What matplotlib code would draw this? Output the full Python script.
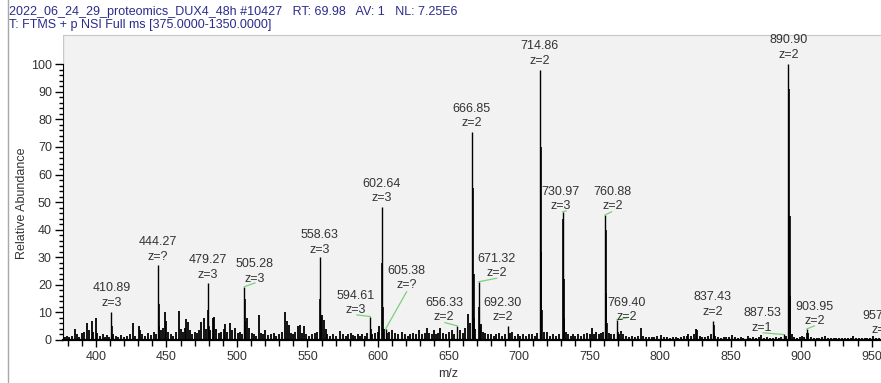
import matplotlib
matplotlib.use('Agg')
import matplotlib.pyplot as plt
from matplotlib.lines import Line2D
from matplotlib.ticker import MultipleLocator, FixedLocator

plt.rcParams['font.family'] = ['Liberation Sans', 'DejaVu Sans']

# Labelled peaks (m/z, relative abundance)
peak_mz = [410.89, 444.27, 479.27, 505.28, 558.63, 594.61, 602.64, 605.38,
           656.33, 666.85, 671.32, 692.30, 714.86, 730.97, 760.88, 769.40,
           837.43, 887.53, 890.90, 903.95]
peak_int = [10.3, 27.2, 20.8, 19.3, 30.2, 8.5, 48.1, 4.0,
            5.1, 75.6, 21.1, 5.1, 97.9, 46.5, 45.3, 7.3,
            7.0, 2.0, 100.0, 4.0]
peak_z = ['3', '?', '3', '3', '3', '3', '3', '?',
          '2', '2', '2', '2', '2', '3', '2', '2',
          '2', '1', '2', '2']

# Isotope peaks next to the labelled ones
iso_mz = [411.22, 444.60, 444.94, 479.60, 479.94, 505.61, 505.95,
          558.96, 559.30, 559.63, 594.94, 602.97, 603.31, 603.64,
          667.35, 667.85, 668.35, 671.82, 672.32, 715.36, 715.86, 716.36,
          731.30, 731.64, 731.97, 761.38, 761.88, 762.38, 769.90,
          837.93, 838.43, 891.40, 891.90, 892.40, 904.45]
iso_int = [5.0, 13.0, 5.0, 11.0, 5.0, 15.0, 7.0,
           15.0, 8.5, 4.0, 4.0, 28.0, 12.0, 4.0,
           55.0, 24.0, 8.0, 12.0, 5.0, 70.0, 32.0, 11.0,
           44.0, 22.0, 8.0, 40.0, 17.0, 6.0, 3.0,
           5.5, 2.5, 91.0, 45.0, 16.0, 2.5]

# Small background peaks
noise_mz = [378, 379.5, 381, 383, 385.2, 386.5, 388, 390, 391.5, 393.9, 395, 397, 398.3, 399.8,
            401, 403, 405, 406.5, 408, 409.5, 412.5, 414, 416, 418, 420, 422, 424,
            426.4, 428, 430.4, 431.5, 433, 435, 437, 439, 441, 442.5, 446, 447.5,
            448.7, 449.7, 451, 453, 455, 457, 458.9, 460, 461.5, 463, 464, 465.3,
            466.5, 468, 470, 471.5, 473, 474.6, 477, 478, 481, 482.9, 484, 485.5,
            487, 489, 490.5, 491.8, 493, 495.1, 496.5, 498.9, 500.5, 502, 503.5,
            507, 508.9, 510.5, 512, 513.5, 515.3, 517, 518.5, 520, 522, 524, 526,
            528, 530, 532, 534.2, 535.8, 537, 538.5, 540, 541.5, 543.4, 544.6, 546,
            547.7, 549, 551, 553, 555, 556.5, 560.3, 561.5, 562.8, 564, 566, 568,
            570, 573, 575, 577, 579, 580.6, 582, 584, 586, 587.5, 589, 591, 592.5,
            596, 598, 600, 601, 604, 606.5, 608, 610, 612, 614, 617, 619, 621, 623,
            625, 627, 628.8, 631, 633, 634.7, 636.5, 638, 639.4, 641, 642.5, 644.1,
            646, 648, 650, 652.4, 654, 658, 660, 661.5, 663.6, 665, 669, 673, 674.5,
            676, 678, 680, 682, 684, 686, 688, 690, 693.5, 695, 697, 699, 701, 703,
            705, 707, 709, 711, 712.5, 717.5, 720, 722, 724, 726, 728, 733, 734.7,
            736.5, 738, 740, 742, 744, 746, 748, 750, 751.9, 753, 754.7, 756.5, 758,
            759.5, 763.5, 765, 767, 771, 772, 774, 776, 778, 780, 782, 784, 786.5,
            788, 790, 792, 794, 796, 798, 800.8, 803, 805, 807, 809, 811, 813, 815,
            817, 819, 820, 822, 824, 825.8, 826.5, 828, 830, 832, 834, 836, 838.9,
            841, 843, 845, 847, 849, 851.3, 853, 855, 857, 859, 862, 864, 866, 868,
            870, 871.8, 874, 876, 878, 880, 882, 884, 886, 889, 893.5, 895, 897, 899,
            900.4, 902, 905.2, 907, 909, 911, 913, 915, 917, 919, 921, 923, 925, 927,
            929, 931, 933, 935, 937, 939, 941, 943, 945, 947, 949, 951, 953, 955]
noise_int = [1.0, 1.5, 1.0, 1.5, 4.0, 2.0, 1.2, 2.5, 3.0, 6.1, 3.5, 6.9, 3.0, 7.8,
             2.5, 1.5, 2.0, 1.0, 1.8, 1.2, 2.0, 1.5, 1.0, 1.8, 1.2, 1.5, 2.2,
             6.0, 1.5, 5.2, 3.5, 2.0, 1.5, 2.5, 1.8, 3.0, 2.0, 3.5, 4.5,
             10.0, 7.0, 3.0, 2.0, 1.5, 2.8, 10.5, 4.0, 3.0, 4.5, 7.5, 6.5,
             3.5, 2.0, 3.0, 2.5, 3.5, 6.5, 8.0, 4.0, 3.5, 8.0, 8.5, 4.0,
             2.5, 3.0, 4.0, 5.8, 3.0, 6.0, 3.5, 4.2, 2.5, 3.0, 2.0,
             8.0, 4.2, 2.5, 2.0, 1.5, 9.2, 2.5, 2.0, 3.5, 1.8, 2.2, 2.5,
             1.5, 2.0, 3.0, 10.0, 6.8, 5.5, 2.5, 2.0, 3.0, 5.0, 5.5, 2.5,
             5.2, 2.0, 1.5, 2.0, 2.5, 3.0, 9.0, 7.3, 4.0, 2.0, 1.5, 2.0,
             1.5, 3.4, 2.0, 1.5, 2.0, 2.6, 1.8, 1.5, 2.0, 1.5, 2.2, 1.5, 2.5,
             2.0, 2.5, 3.0, 5.0, 4.0, 2.5, 3.0, 3.7, 2.5, 2.0, 3.0, 2.0, 1.5, 2.0,
             2.5, 2.0, 3.6, 2.0, 2.5, 4.2, 2.5, 2.0, 3.6, 2.0, 2.5, 4.2,
             2.5, 2.0, 3.0, 3.6, 2.0, 3.6, 2.5, 4.5, 9.4, 6.0, 4.0, 5.7, 3.0,
             2.5, 2.0, 2.0, 1.5, 2.0, 2.5, 1.5, 2.0, 2.5, 3.0, 1.5, 2.0, 1.5, 2.0,
             1.5, 2.0, 2.0, 1.5, 2.5, 3.0, 3.0, 1.5, 2.0, 1.5, 2.0, 3.0, 2.0,
             1.5, 2.0, 1.5, 2.0, 1.5, 2.0, 2.5, 2.0, 4.4, 2.0, 3.0, 2.0, 2.5,
             3.0, 2.5, 2.0, 2.0, 2.0, 3.4, 2.0, 1.5, 1.2, 1.5, 1.2, 1.5, 4.2,
             1.5, 1.2, 1.0, 1.2, 1.0, 1.3, 1.9, 1.0, 1.2, 0.8, 1.0, 1.2, 0.8, 1.0,
             1.3, 1.5, 2.2, 1.5, 2.0, 4.0, 3.5, 1.5, 1.0, 1.2, 1.5, 2.0, 1.5,
             1.0, 0.8, 1.0, 1.2, 1.0, 1.9, 1.0, 0.8, 1.0, 0.8, 1.5, 0.8, 1.0, 0.8,
             1.0, 1.9, 0.8, 1.0, 0.8, 0.7, 1.0, 0.8, 1.2, 1.5, 2.0, 1.0, 0.8, 1.0,
             1.5, 1.0, 2.4, 1.0, 0.8, 0.7, 0.8, 1.0, 1.6, 0.7, 0.8, 0.6, 0.8, 0.6,
             0.8, 0.7, 0.8, 0.6, 1.6, 0.7, 0.8, 0.6, 0.7, 0.6, 0.8, 1.6, 0.7, 0.6]

# Where each peak label block sits (m/z, abundance of the block centre)
label_x = [411.2, 444.2, 479.3, 512.8, 558.7, 584.2, 602.6, 620.3,
           646.8, 666.4, 684.1, 688.4, 714.8, 729.4, 766.1, 776.5,
           837.3, 872.2, 890.9, 909.3]
label_y = [16.1, 32.8, 26.3, 24.8, 35.4, 13.4, 54.0, 22.5,
           10.9, 81.2, 26.7, 10.9, 103.9, 51.1, 51.0, 10.9,
           12.9, 7.1, 106.1, 9.4]

# Green leader lines: peak index -> end point of the line
leaders = {3: (512.8, 20.7), 5: (585.1, 9.1), 7: (620.3, 17.5), 8: (647.5, 6.3),
           10: (684.1, 22.4), 13: (733.3, 46.8), 14: (765.6, 46.5),
           15: (777.4, 8.2), 17: (873.1, 2.6), 19: (909.3, 5.1)}

fig = plt.figure(figsize=(8.81, 3.83), dpi=100)
fig.patch.set_facecolor('white')
ax = fig.add_axes([63 / 881, 43 / 383, 818 / 881, 305 / 383])
ax.set_facecolor('#f2f2f2')

ax.vlines(noise_mz, 0, noise_int, color='black', lw=1.3)
ax.vlines(iso_mz, 0, iso_int, color='black', lw=1.2)
ax.vlines(peak_mz, 0, peak_int, color='black', lw=1.0)

for i, (mz, h) in enumerate(zip(peak_mz, peak_int)):
    ax.text(label_x[i], label_y[i], f'{mz:.2f}\nz={peak_z[i]}', ha='center',
            va='center', fontsize=9, color='#333333', linespacing=1.25)
    if i in leaders:
        ex, ey = leaders[i]
        ax.plot([mz, ex], [h, ey], color='#7ccf7c', lw=0.9)

# label cut by the right edge, as in the original screenshot
ax.text(957.2, 6.2, '957.61\nz=2', ha='center', va='center', fontsize=9,
        color='#333333', linespacing=1.25, clip_on=False)

ax.set_xlim(376.7, 956.6)
ax.set_ylim(0, 110.6)
ax.xaxis.set_major_locator(MultipleLocator(50))
ax.xaxis.set_minor_locator(MultipleLocator(10))
ax.yaxis.set_major_locator(FixedLocator(range(0, 101, 10)))
ax.yaxis.set_minor_locator(FixedLocator(range(0, 101, 2)))
ax.tick_params(axis='x', which='major', length=5, width=1, pad=3,
               labelsize=9, labelcolor='#333333')
ax.tick_params(axis='x', which='minor', length=4, width=1)
ax.tick_params(axis='y', which='major', length=6, width=1, pad=2,
               labelsize=9, labelcolor='#333333')
ax.tick_params(axis='y', which='minor', length=3, width=1)

ax.spines['right'].set_visible(False)
ax.spines['top'].set_color('#c8c8c8')
ax.spines['left'].set_bounds(0, 100)
ax.spines['bottom'].set_linewidth(1.6)
ax.axvline(376.7, ymin=100 / 110.6, ymax=1, color='#c8c8c8', lw=1)

fig.text(22 / 881, 1 - 203 / 383, 'Relative Abundance', rotation=90,
         ha='center', va='center', fontsize=9, color='#333333')
fig.text(448 / 881, 1 - 374 / 383, 'm/z', ha='center', va='center',
         fontsize=9, color='#333333')

fig.text(9 / 881, 1 - 11.5 / 383,
         '2022_06_24_29_proteomics_DUX4_48h #10427   RT: 69.98   AV: 1   NL: 7.25E6',
         ha='left', va='center', fontsize=9, color='#2b2b8c')
fig.text(9 / 881, 1 - 25 / 383, 'T: FTMS + p NSI Full ms [375.0000-1350.0000]',
         ha='left', va='center', fontsize=9, color='#2b2b8c')
fig.add_artist(Line2D([7.5 / 881, 7.5 / 881], [0, 1], color='#a8a8a8', lw=1))

plt.savefig('out.png', dpi=100)
